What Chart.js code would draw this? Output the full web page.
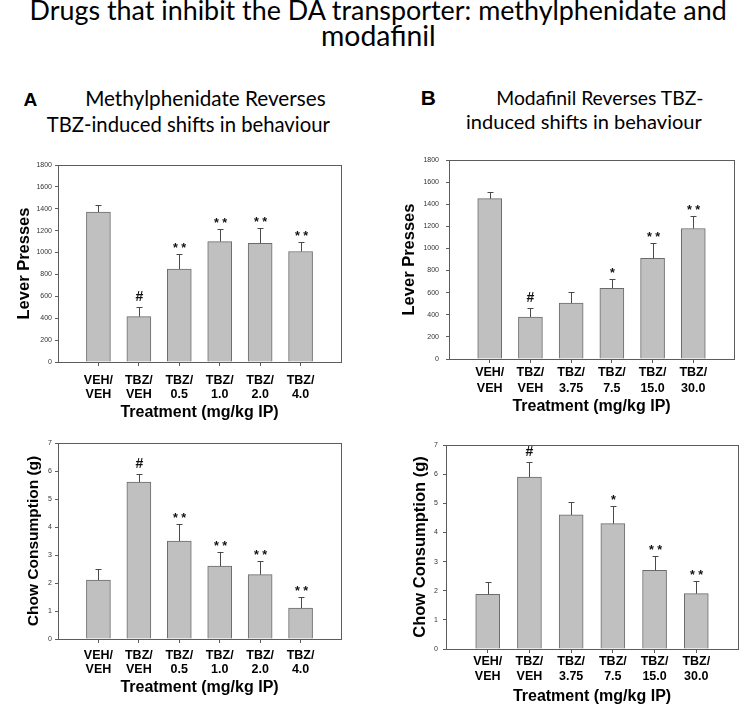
<!DOCTYPE html>
<html>
<head>
<meta charset="utf-8">
<script src="https://cdn.jsdelivr.net/npm/chart.js@4.4.1/dist/chart.umd.min.js"></script>
<style>
  body { margin: 0; width: 744px; height: 707px; background: #fff; position: relative; overflow: hidden; }
  canvas { position: absolute; }
  .txt { position: absolute; white-space: nowrap; color: #000; }
</style>
</head>
<body>
<canvas id="mphLever"></canvas>
<canvas id="mphChow"></canvas>
<canvas id="modLever"></canvas>
<canvas id="modChow"></canvas>
<script>
// values (mean, upward error = SEM, significance marks)
const mphLabels = [["VEH/", "VEH"], ["TBZ/", "VEH"], ["TBZ/", "0.5"], ["TBZ/", "1.0"], ["TBZ/", "2.0"], ["TBZ/", "4.0"]];
const modLabels = [["VEH/", "VEH"], ["TBZ/", "VEH"], ["TBZ/", "3.75"], ["TBZ/", "7.5"], ["TBZ/", "15.0"], ["TBZ/", "30.0"]];

const mphLeverMean = [1370, 415, 850, 1100, 1085, 1010];
const mphLeverSem = [60, 85, 135, 115, 135, 90];
const mphLeverSig = ["", "#", "**", "**", "**", "**"];

const mphChowMean = [2.1, 5.6, 3.5, 2.6, 2.3, 1.1];
const mphChowSem = [0.4, 0.3, 0.6, 0.5, 0.5, 0.4];
const mphChowSig = ["", "#", "**", "**", "**", "**"];

const modLeverMean = [1450, 380, 505, 640, 910, 1180];
const modLeverSem = [60, 85, 100, 85, 140, 110];
const modLeverSig = ["", "#", "", "*", "**", "**"];

const modChowMean = [1.88, 5.9, 4.6, 4.3, 2.7, 1.9];
const modChowSem = [0.42, 0.5, 0.45, 0.6, 0.5, 0.42];
const modChowSig = ["", "#", "", "*", "**", "**"];

const leverMax = 1800, leverStep = 200;
const chowMax = 7, chowStep = 1;

Chart.defaults.font.family = 'Arial, "Liberation Sans", sans-serif';

const lineColor = "#5c5c5c";

// === box round the plot area ===
const frame = {
  id: "frame",
  afterDraw(chart) {
    const { ctx, chartArea: a } = chart;
    ctx.save();
    ctx.strokeStyle = lineColor;
    ctx.lineWidth = 1;
    ctx.strokeRect(Math.round(a.left) + 0.5, Math.round(a.top) + 0.5, Math.round(a.right - a.left), Math.round(a.bottom - a.top));
    ctx.restore();
  }
};

// === error bars + significance marks ===
function errorPlugin(mean, sem, sig) {
  return {
    id: "errorBars",
    afterDatasetsDraw(chart) {
      const { ctx, scales: { x, y } } = chart;
      ctx.save();
      ctx.strokeStyle = "#4a4a4a";
      ctx.fillStyle = "#111";
      ctx.lineWidth = 1;
      mean.forEach((m, i) => {
        const px = Math.round(x.getPixelForValue(i)) + 0.5;
        const y0 = y.getPixelForValue(m);
        const y1 = Math.round(y.getPixelForValue(m + sem[i])) + 0.5;
        ctx.beginPath();
        ctx.moveTo(px, y0);
        ctx.lineTo(px, y1);
        ctx.moveTo(px - 3, y1);
        ctx.lineTo(px + 3, y1);
        ctx.stroke();
        if (!sig[i]) return;
        const isHash = sig[i] === "#";
        const t = sig[i].split("").join(" ");
        ctx.font = `bold ${isHash ? 14 : 12.5}px Arial, 'Liberation Sans', sans-serif`;
        ctx.textAlign = "center";
        ctx.textBaseline = "alphabetic";
        const mt = ctx.measureText(t);
        const cy = y1 - (isHash ? 12 : 9);
        ctx.fillText(t, px, cy + (mt.actualBoundingBoxAscent - mt.actualBoundingBoxDescent) / 2);
      });
      ctx.restore();
    }
  };
}

function makeChart(id, box, area, c) {
  const cv = document.getElementById(id);
  cv.width = box.w;
  cv.height = box.h;
  cv.style.left = box.x + "px";
  cv.style.top = box.y + "px";
  return new Chart(cv, {
    type: "bar",
    data: {
      datasets: [{
        data: c.mean.map((v, i) => ({ x: i, y: v })),
        backgroundColor: "#c0c0c0",
        borderColor: "#6b6b6b",
        borderWidth: 1,
        barThickness: 24
      }]
    },
    options: {
      responsive: false,
      animation: false,
      layout: { padding: { top: area.t - box.y, right: box.x + box.w - area.r, left: 0, bottom: 0 } },
      plugins: { legend: { display: false }, tooltip: { enabled: false } },
      scales: {
        x: {
          type: "linear", min: -1, max: 6, offset: false,
          afterBuildTicks: s => { s.ticks = c.labels.map((_, i) => ({ value: i })); },
          afterFit: s => { s.height = box.y + box.h - area.b; },
          ticks: {
            callback: v => c.labels[v],
            color: "#000", autoSkip: false, maxRotation: 0,
            font: { size: 12.5, weight: "bold", lineHeight: c.xLine },
            padding: c.xPad
          },
          grid: { drawOnChartArea: false, tickLength: 4, color: lineColor, offset: false },
          border: { display: false },
          title: {
            display: true, text: "Treatment (mg/kg IP)", color: "#000",
            font: { size: 16, weight: "bold", lineHeight: 1.2 },
            padding: { top: 0, bottom: c.xTitlePad }
          }
        },
        y: {
          min: 0, max: c.max,
          afterFit: s => { s.width = area.l - box.x; },
          ticks: { stepSize: c.step, color: "#333", font: { size: 7 }, padding: c.yPad, callback: v => String(v) },
          grid: { drawOnChartArea: false, tickLength: 3, color: lineColor },
          border: { display: false },
          title: {
            display: true, text: c.yTitle, color: "#000",
            font: { size: c.yTitleSize, weight: "bold", lineHeight: 1.2 },
            padding: { top: c.yTitlePad, bottom: 0 }
          }
        }
      }
    },
    plugins: [frame, errorPlugin(c.mean, c.sem, c.sig)]
  });
}

makeChart("mphLever", { x: 0, y: 150, w: 360, h: 275 }, { l: 58, t: 165, r: 341, b: 362 }, {
  labels: mphLabels, mean: mphLeverMean, sem: mphLeverSem, sig: mphLeverSig,
  max: leverMax, step: leverStep, yTitle: "Lever Presses", yTitleSize: 16.5,
  xLine: 1.07, xPad: 8, xTitlePad: 3, yPad: 3, yTitlePad: 15
});
makeChart("mphChow", { x: 0, y: 430, w: 360, h: 277 }, { l: 58, t: 443, r: 341, b: 639 }, {
  labels: mphLabels, mean: mphChowMean, sem: mphChowSem, sig: mphChowSig,
  max: chowMax, step: chowStep, yTitle: "Chow Consumption (g)", yTitleSize: 15.5,
  xLine: 1.07, xPad: 6, xTitlePad: 10, yPad: 3, yTitlePad: 24
});
makeChart("modLever", { x: 370, y: 145, w: 374, h: 275 }, { l: 449, t: 160, r: 734, b: 359 }, {
  labels: modLabels, mean: modLeverMean, sem: modLeverSem, sig: modLeverSig,
  max: leverMax, step: leverStep, yTitle: "Lever Presses", yTitleSize: 16.5,
  xLine: 1.25, xPad: 2, xTitlePad: 4, yPad: 7, yTitlePad: 30
});
makeChart("modChow", { x: 370, y: 432, w: 374, h: 275 }, { l: 446, t: 445, r: 738, b: 649 }, {
  labels: modLabels, mean: modChowMean, sem: modChowSem, sig: modChowSig,
  max: chowMax, step: chowStep, yTitle: "Chow Consumption (g)", yTitleSize: 16.5,
  xLine: 1.2, xPad: 1.5, xTitlePad: 1, yPad: 5, yTitlePad: 41
});

// === headings: text fitted to the ink box of the original ===
const mctx = document.createElement("canvas").getContext("2d");
function putText(txt, x1, x2, base, family, weight) {
  mctx.font = `${weight} 100px ${family}`;
  const m = mctx.measureText(txt);
  const k = (x2 - x1) / (m.actualBoundingBoxLeft + m.actualBoundingBoxRight);
  const size = 100 * k;
  const asc = m.fontBoundingBoxAscent * k, desc = m.fontBoundingBoxDescent * k;
  const el = document.createElement("div");
  el.className = "txt";
  el.textContent = txt;
  el.style.font = `${weight} ${size}px ${family}`;
  el.style.lineHeight = (asc + desc) + "px";
  el.style.left = (x1 + m.actualBoundingBoxLeft * k) + "px";
  el.style.top = (base - asc) + "px";
  document.body.appendChild(el);
}
const head = "Lato, 'Noto Sans', sans-serif";
const letter = "Arial, 'Liberation Sans', sans-serif";
putText("Drugs that inhibit the DA transporter: methylphenidate and", 32, 726, 21, head, "normal");
putText("modafinil", 323, 434, 46, head, "normal");
putText("A", 24, 37, 106, letter, "bold");
putText("Methylphenidate Reverses", 87, 325, 106, head, "normal");
putText("TBZ-induced shifts in behaviour", 47, 330, 132, head, "normal");
putText("B", 422, 435, 105, letter, "bold");
putText("Modafinil Reverses TBZ-", 498, 703, 105, head, "normal");
putText("induced shifts in behaviour", 467, 702, 128.5, head, "normal");
</script>
</body>
</html>
